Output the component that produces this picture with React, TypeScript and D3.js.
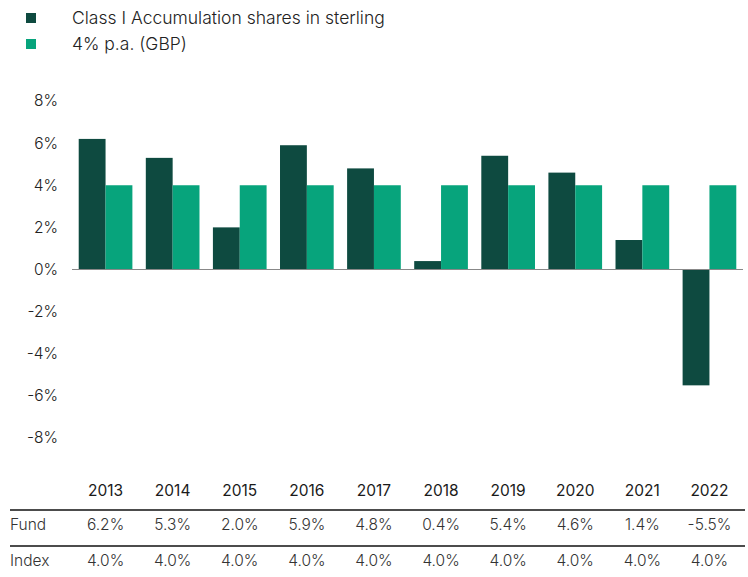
import React, { useEffect, useRef } from "react";
import * as d3 from "d3";

const years = ["2013", "2014", "2015", "2016", "2017", "2018", "2019", "2020", "2021", "2022"];
const fundValues = [6.2, 5.3, 2.0, 5.9, 4.8, 0.4, 5.4, 4.6, 1.4, -5.5];
const indexValues = [4.0, 4.0, 4.0, 4.0, 4.0, 4.0, 4.0, 4.0, 4.0, 4.0];
const yTicks = [8, 6, 4, 2, 0, -2, -4, -6, -8];
const seriesNames = ["Class I Accumulation shares in sterling", "4% p.a. (GBP)"];
const colors = ["#0e4a40", "#07a47c"];

const App = () => {
  const svgRef = useRef<SVGSVGElement>(null);

  useEffect(() => {
    const svg = d3.select(svgRef.current);
    svg.selectAll("*").remove();

    const font = "Inter, 'Noto Sans', sans-serif";

    // legend
    const legend = svg.append("g");
    seriesNames.forEach((name, i) => {
      legend
        .append("rect")
        .attr("x", 26)
        .attr("y", 13 + i * 26)
        .attr("width", 10)
        .attr("height", 10)
        .attr("fill", colors[i]);
      legend
        .append("text")
        .attr("x", 72)
        .attr("y", 24 + i * 26)
        .attr("font-family", font)
        .attr("font-size", 17.5)
        .attr("font-weight", 300)
        .attr("fill", "#222")
        .text(name);
    });

    const x0 = d3.scaleBand().domain(years).range([72, 743]).paddingInner(0.2).paddingOuter(0.1);
    const x1 = d3.scaleBand().domain(["fund", "index"]).range([0, x0.bandwidth()]);
    const y = d3.scaleLinear().domain([-8, 8]).range([438, 101]);

    // y tick labels
    svg
      .append("g")
      .selectAll("text")
      .data(yTicks)
      .enter()
      .append("text")
      .attr("x", 58)
      .attr("y", (d) => y(d))
      .attr("dy", "0.35em")
      .attr("text-anchor", "end")
      .attr("font-family", font)
      .attr("font-size", 15.5)
      .attr("font-weight", 300)
      .attr("fill", "#222")
      .text((d) => `${d}%`);

    const groups = svg
      .append("g")
      .selectAll("g")
      .data(years)
      .enter()
      .append("g")
      .attr("transform", (d) => `translate(${x0(d)},0)`);

    groups
      .append("rect")
      .attr("x", x1("fund")!)
      .attr("width", x1.bandwidth())
      .attr("y", (d, i) => y(Math.max(0, fundValues[i])))
      .attr("height", (d, i) => Math.abs(y(fundValues[i]) - y(0)))
      .attr("fill", colors[0]);

    groups
      .append("rect")
      .attr("x", x1("index")!)
      .attr("width", x1.bandwidth())
      .attr("y", (d, i) => y(Math.max(0, indexValues[i])))
      .attr("height", (d, i) => Math.abs(y(indexValues[i]) - y(0)))
      .attr("fill", colors[1]);

    // zero line
    svg
      .append("line")
      .attr("x1", 72)
      .attr("x2", 743)
      .attr("y1", y(0))
      .attr("y2", y(0))
      .attr("stroke", "#888")
      .attr("stroke-width", 1);

    // table
    const cx = (d: string) => x0(d)! + x0.bandwidth() / 2;
    const table = svg.append("g").attr("font-family", font).attr("font-size", 15.5);

    table
      .selectAll(".yr")
      .data(years)
      .enter()
      .append("text")
      .attr("x", cx)
      .attr("y", 491)
      .attr("dy", "0.35em")
      .attr("text-anchor", "middle")
      .attr("font-weight", 400)
      .attr("fill", "#1a1a1a")
      .text((d) => d);

    [510, 546].forEach((ly) => {
      table
        .append("line")
        .attr("x1", 10)
        .attr("x2", 745)
        .attr("y1", ly)
        .attr("y2", ly)
        .attr("stroke", "#111")
        .attr("stroke-width", 1.5);
    });

    const rows = [
      { label: "Fund", values: fundValues, yy: 525 },
      { label: "Index", values: indexValues, yy: 561 },
    ];
    rows.forEach((r) => {
      table
        .append("text")
        .attr("x", 10)
        .attr("y", r.yy)
        .attr("dy", "0.35em")
        .attr("font-weight", 300)
        .attr("fill", "#333")
        .text(r.label);
      table
        .selectAll(`.v-${r.label}`)
        .data(years)
        .enter()
        .append("text")
        .attr("x", cx)
        .attr("y", r.yy)
        .attr("dy", "0.35em")
        .attr("text-anchor", "middle")
        .attr("font-weight", 300)
        .attr("fill", "#333")
        .text((d, i) => `${r.values[i].toFixed(1)}%`);
    });
  }, []);

  return <svg ref={svgRef} width={748} height={577} style={{ position: "absolute", left: 0, top: 0 }} />;
};

export default App;
